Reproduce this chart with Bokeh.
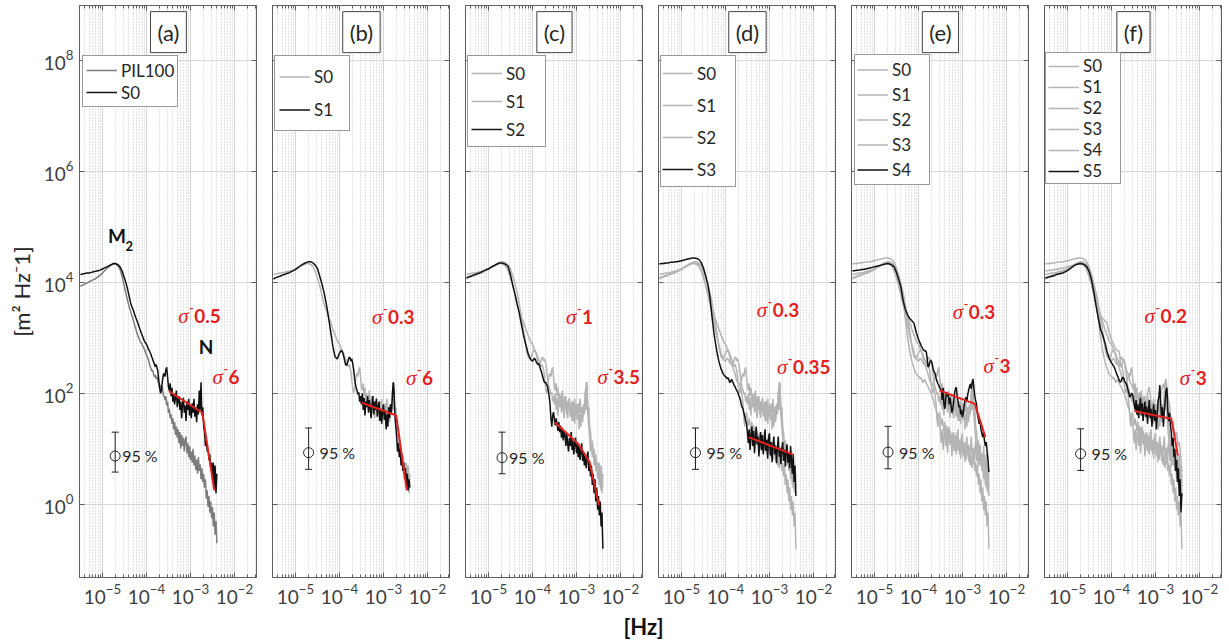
from bokeh.plotting import figure
from bokeh.layouts import row, column
from bokeh.models import (Range1d, FixedTicker, LogAxis, Legend, LegendItem, Label,
                          Whisker, TeeHead, ColumnDataSource, CustomJSTickFormatter)
from bokeh.core.properties import value
from bokeh.embed import file_html
from bokeh.resources import INLINE

# ---------------- data (log10 values) ----------------
LOG_FREQ = [
    -5.50, -5.45, -5.40, -5.35, -5.30, -5.25, -5.20, -5.15, -5.10, -5.05,
    -5.00, -4.95, -4.90, -4.85, -4.80, -4.75, -4.70, -4.65, -4.60, -4.55,
    -4.50, -4.45, -4.40, -4.35, -4.30, -4.25, -4.20, -4.15, -4.10, -4.05,
    -4.00,
    -3.98, -3.96, -3.94, -3.92, -3.90, -3.88, -3.86, -3.84, -3.82, -3.80,
    -3.78, -3.76, -3.74, -3.72, -3.70, -3.68, -3.66, -3.64, -3.62, -3.60,
    -3.58, -3.56, -3.54, -3.52, -3.50, -3.48, -3.46, -3.44, -3.42, -3.40,
    -3.38, -3.36, -3.34, -3.32, -3.30, -3.28, -3.26, -3.24, -3.22, -3.20,
    -3.18, -3.16, -3.14, -3.12, -3.10, -3.08, -3.06, -3.04, -3.02, -3.00,
    -2.98, -2.96, -2.94, -2.92, -2.90, -2.88, -2.86, -2.84, -2.82, -2.80,
    -2.78, -2.76, -2.74, -2.72, -2.70, -2.68, -2.66, -2.64, -2.62, -2.60,
    -2.58, -2.56, -2.54, -2.52, -2.50, -2.48, -2.46, -2.44, -2.42, -2.40]

PIL100 = [
    3.93, 3.95, 3.97, 3.99, 4.01, 4.03, 4.05, 4.07, 4.10, 4.13,
    4.17, 4.21, 4.25, 4.28, 4.31, 4.33, 4.33, 4.30, 4.24, 4.10,
    3.92, 3.75, 3.58, 3.45, 3.32, 3.18, 3.05, 2.95, 2.88, 2.80,
    2.70,
    2.66, 2.62, 2.56, 2.50, 2.45, 2.40, 2.42, 2.35, 2.30, 2.33,
    2.26, 2.30, 2.22, 2.18, 2.10, 2.15, 2.05, 2.12, 1.98, 1.95,
    1.88, 1.95, 1.78, 1.85, 1.65, 1.72, 1.55, 1.62, 1.45, 1.55,
    1.35, 1.48, 1.25, 1.40, 1.20, 1.35, 1.10, 1.30, 1.00, 1.25,
    1.05, 1.20, 0.95, 1.15, 1.22, 0.92, 1.10, 0.85, 1.05, 0.80,
    0.95, 0.75, 1.00, 0.70, 0.88, 0.62, 0.80, 0.55, 0.85, 0.60,
    0.72, 0.45, 0.65, 0.40, 0.55, 0.30, 0.45, 0.10, 0.25, -0.05,
    0.15, -0.15, 0.05, -0.25, -0.05, -0.40, -0.15, -0.55, -0.30, -0.70]

S0 = [
    4.14, 4.15, 4.16, 4.17, 4.17, 4.18, 4.19, 4.20, 4.21, 4.22,
    4.24, 4.26, 4.28, 4.30, 4.32, 4.34, 4.34, 4.32, 4.28, 4.20,
    4.08, 3.95, 3.78, 3.60, 3.50, 3.38, 3.28, 3.16, 3.05, 2.95,
    2.88,
    2.86, 2.80, 2.78, 2.74, 2.71, 2.66, 2.62, 2.57, 2.53, 2.48,
    2.52, 2.46, 2.40, 2.24, 2.10, 2.00, 2.05, 2.20, 2.32, 2.36,
    2.30, 2.42, 2.47, 2.30, 2.12, 2.05, 2.18, 1.95, 2.10, 1.85,
    2.00, 1.80, 1.92, 2.05, 1.75, 1.88, 1.95, 1.70, 1.85, 1.55,
    1.80, 1.92, 1.65, 1.78, 1.50, 1.85, 1.70, 1.90, 1.60, 1.78,
    1.55, 1.82, 1.65, 1.90, 1.58, 1.75, 1.48, 1.80, 1.62, 2.05,
    1.70, 2.20, 1.60, 1.75, 1.40, 1.30, 1.05, 1.15, 0.95, 1.00,
    0.80, 0.90, 0.65, 0.75, 0.45, 0.75, 0.30, 0.70, 0.20, 0.55]

S1 = [
    4.06, 4.08, 4.10, 4.11, 4.13, 4.14, 4.16, 4.17, 4.19, 4.21,
    4.23, 4.26, 4.29, 4.32, 4.34, 4.36, 4.37, 4.37, 4.35, 4.31,
    4.25, 4.12, 3.98, 3.82, 3.62, 3.38, 3.12, 2.85, 2.66, 2.62,
    2.72,
    2.75, 2.77, 2.76, 2.72, 2.66, 2.58, 2.52, 2.50, 2.54, 2.60,
    2.65, 2.64, 2.58, 2.62, 2.55, 2.45, 2.30, 2.18, 2.10, 2.05,
    1.98, 2.02, 1.85, 1.95, 1.80, 2.00, 1.70, 1.92, 1.60, 1.85,
    1.75, 1.95, 1.65, 1.88, 1.72, 1.55, 1.80, 1.95, 1.62, 1.85,
    1.70, 1.90, 1.58, 1.75, 1.85, 1.50, 1.72, 1.45, 1.68, 1.80,
    1.52, 1.70, 1.35, 1.62, 1.40, 1.75, 1.55, 1.80, 1.65, 1.90,
    2.20, 2.05, 1.60, 1.40, 1.20, 0.95, 1.10, 0.85, 1.00, 0.70,
    0.85, 0.60, 0.75, 0.45, 0.65, 0.35, 0.55, 0.25, 0.45, 0.30]

S2 = [
    4.08, 4.10, 4.11, 4.13, 4.14, 4.16, 4.17, 4.19, 4.21, 4.23,
    4.24, 4.27, 4.29, 4.31, 4.33, 4.35, 4.35, 4.34, 4.32, 4.28,
    4.14, 3.96, 3.80, 3.62, 3.45, 3.24, 3.04, 2.88, 2.72, 2.62,
    2.58,
    2.60, 2.63, 2.62, 2.58, 2.55, 2.52, 2.54, 2.50, 2.44, 2.40,
    2.34, 2.28, 2.22, 2.19, 2.20, 2.16, 2.13, 2.05, 1.95, 1.80,
    1.55, 1.40, 1.60, 1.66, 1.52, 1.42, 1.55, 1.45, 1.32, 1.48,
    1.30, 1.42, 1.20, 1.38, 1.15, 1.32, 1.25, 1.05, 1.28, 1.10,
    0.95, 1.20, 1.05, 1.30, 0.98, 1.15, 0.90, 1.10, 1.20, 0.92,
    1.08, 0.85, 1.05, 0.80, 0.95, 1.10, 0.78, 0.92, 0.70, 0.88,
    0.65, 0.85, 0.95, 0.60, 0.75, 0.50, 0.70, 0.35, 0.55, 0.20,
    0.45, 0.05, 0.30, -0.10, 0.15, -0.20, 0.05, -0.40, -0.15, -0.80]

S3 = [
    4.33, 4.34, 4.34, 4.35, 4.35, 4.36, 4.36, 4.37, 4.37, 4.38,
    4.39, 4.40, 4.41, 4.42, 4.43, 4.44, 4.44, 4.43, 4.41, 4.36,
    4.26, 4.12, 3.96, 3.72, 3.35, 3.02, 2.78, 2.58, 2.44, 2.35,
    2.30,
    2.29, 2.26, 2.28, 2.24, 2.19, 2.22, 2.25, 2.22, 2.18, 2.14,
    2.12, 2.08, 2.05, 2.02, 1.97, 1.93, 1.88, 1.80, 1.75, 1.72,
    1.64, 1.58, 1.50, 1.45, 1.30, 1.10, 1.35, 0.98, 1.25, 1.40,
    1.05, 1.32, 0.92, 1.18, 1.40, 1.08, 1.22, 0.86, 1.12, 1.30,
    0.98, 1.25, 0.90, 1.08, 1.35, 0.96, 1.16, 0.82, 1.20, 1.28,
    0.88, 1.12, 0.76, 1.08, 1.22, 0.90, 1.06, 0.74, 1.00, 1.22,
    0.86, 1.02, 0.72, 1.00, 1.12, 0.78, 0.98, 0.68, 0.96, 1.08,
    0.75, 0.92, 0.65, 1.05, 0.80, 0.55, 0.90, 0.40, 0.70, 0.15]

S4 = [
    4.21, 4.21, 4.22, 4.22, 4.23, 4.23, 4.24, 4.25, 4.26, 4.27,
    4.28, 4.29, 4.30, 4.31, 4.32, 4.33, 4.34, 4.33, 4.31, 4.28,
    4.18, 4.06, 3.92, 3.68, 3.52, 3.42, 3.35, 3.31, 3.26, 3.10,
    2.98,
    2.94, 2.90, 2.86, 2.83, 2.80, 2.78, 2.76, 2.77, 2.74, 2.62,
    2.47, 2.50, 2.56, 2.59, 2.57, 2.50, 2.42, 2.38, 2.35, 2.28,
    2.22, 2.18, 2.15, 2.10, 2.08, 2.05, 1.88, 2.10, 1.80, 1.72,
    1.90, 2.02, 1.95, 1.99, 1.80, 1.92, 1.78, 1.65, 1.72, 1.85,
    2.00, 2.08, 2.11, 1.95, 1.85, 1.75, 1.78, 1.62, 1.70, 1.57,
    1.65, 1.80, 1.88, 1.93, 1.85, 1.98, 2.05, 2.12, 2.17, 2.08,
    2.20, 2.26, 2.10, 1.95, 1.87, 1.80, 1.62, 1.55, 1.45, 1.50,
    1.35, 1.28, 1.21, 1.30, 1.15, 1.05, 1.12, 0.95, 0.80, 0.58]

S5 = [
    4.08, 4.09, 4.10, 4.11, 4.12, 4.14, 4.15, 4.16, 4.17, 4.19,
    4.21, 4.24, 4.27, 4.30, 4.32, 4.33, 4.34, 4.33, 4.31, 4.27,
    4.18, 4.04, 3.82, 3.58, 3.36, 3.16, 3.05, 2.92, 2.75, 2.63,
    2.55,
    2.53, 2.50, 2.48, 2.44, 2.39, 2.35, 2.31, 2.27, 2.23, 2.20,
    2.22, 2.26, 2.29, 2.27, 2.22, 2.19, 2.17, 2.12, 2.05, 1.98,
    1.93, 1.96, 2.00, 1.98, 1.90, 1.78, 1.70, 1.88, 1.62, 1.80,
    1.55, 1.75, 1.92, 1.60, 1.82, 1.50, 1.70, 1.85, 1.58, 1.76,
    1.45, 1.68, 1.88, 1.55, 1.72, 1.40, 1.62, 1.80, 1.50, 1.70,
    1.35, 1.60, 1.85, 1.95, 2.15, 1.80, 1.55, 1.75, 1.40, 1.65,
    1.85, 2.05, 2.10, 1.70, 1.50, 1.65, 1.42, 1.30, 1.05, 1.20,
    0.85, 1.00, 0.60, 0.80, 0.40, 0.65, 0.15, 0.45, -0.15, 0.20]

SERIES = {"PIL100": PIL100, "S0": S0, "S1": S1, "S2": S2, "S3": S3, "S4": S4, "S5": S5}
for _k, _v in SERIES.items():
    assert len(_v) == len(LOG_FREQ), (_k, len(_v))

PANEL_TAGS = ["(a)", "(b)", "(c)", "(d)", "(e)", "(f)"]
PANEL_SERIES = [["PIL100", "S0"], ["S0", "S1"], ["S0", "S1", "S2"],
                ["S0", "S1", "S2", "S3"], ["S0", "S1", "S2", "S3", "S4"],
                ["S0", "S1", "S2", "S3", "S4", "S5"]]

# red fitted slopes (log10 f, log10 PSD)
FIT_LOGF = [[-3.49, -2.73, -2.46], [-3.49, -2.71, -2.47], [-3.49, -2.96, -2.70, -2.49],
            [-3.47, -2.47], [-3.52, -2.72, -2.48], [-3.48, -2.64, -2.49]]
FIT_LOGP = [[2.04, 1.65, 0.25], [1.83, 1.60, 0.25], [1.48, 1.09, 0.76, -0.02],
            [1.21, 0.90], [2.05, 1.81, 1.21], [1.68, 1.54, 0.88]]

SLOPE_TEXT = [["0.5", "6"], ["0.3", "6"], ["1", "3.5"], ["0.3", "0.35"], ["0.3", "3"], ["0.2", "3"]]
SLOPE_LOGF = [[-3.28, -2.50], [-3.26, -2.49], [-3.24, -2.52], [-3.29, -2.83], [-3.22, -2.52], [-3.25, -2.45]]
SLOPE_LOGP = [[3.39, 2.29], [3.37, 2.28], [3.37, 2.30], [3.50, 2.47], [3.46, 2.49], [3.39, 2.28]]

# 95 % confidence bar
CI_LOGF = [-4.71, -4.70, -4.69, -4.68, -4.69, -4.70]
CI_MID = [0.87, 0.93, 0.84, 0.93, 0.94, 0.91]
CI_LO = [0.58, 0.63, 0.55, 0.63, 0.64, 0.61]
CI_HI = [1.30, 1.375, 1.30, 1.375, 1.405, 1.36]
CI_TEXT_DX = [7, 11, 7, 11, 11, 11]

X_TICKS = [1e-5, 1e-4, 1e-3, 1e-2]
Y_TICKS = [1e0, 1e2, 1e4, 1e6, 1e8]

# legend box geometry (px)
LEG_X = [3, 2, 2, 2, 3, 1]
LEG_TOP = [57, 57, 57, 57, 56, 60]
LEG_ROW = [22, 33, 28, 32, 25, 20]
LEG_PAD = [3, 4, 3, 1, 2, 2]
LEG_LABEL_W = [52, 31, 36, 37, 35, 35]

# ---------------- style ----------------
FONT = "Lato"
RED = "#e3211f"
BLACK = "#111111"
GRAY_DARK = "#7c7c7c"
GRAY_LIGHT = "#b4b4b4"
FRAME = "#5f5f5f"
FRAME_H = 572


def lp(a):
    return [10.0 ** v for v in a]


def style_axis(ax, labels):
    ax.axis_line_color = FRAME
    ax.major_tick_line_color = FRAME
    ax.minor_tick_line_color = FRAME
    ax.major_tick_in = 5
    ax.major_tick_out = 0
    ax.minor_tick_in = 3
    ax.minor_tick_out = 0
    if labels:
        ax.major_label_text_font = FONT
        ax.major_label_text_font_size = "19px"
        ax.major_label_text_color = "#404040"
        ax.major_label_standoff = 6
    else:
        ax.formatter = CustomJSTickFormatter(code="return ''")
        ax.major_label_text_font_size = "1px"
        ax.major_label_standoff = 0


X_MINOR = [m * 10.0 ** e for e in range(-6, -1) for m in range(2, 10)]

figs = []
for i, tag in enumerate(PANEL_TAGS):
    first = i == 0
    p = figure(x_axis_type="log", y_axis_type="log",
               x_range=Range1d(10 ** -5.52, 10 ** -1.5),
               y_range=Range1d(10 ** -1.32, 10 ** 8.99),
               frame_width=177, frame_height=FRAME_H,
               min_border_left=79 if first else 8, min_border_right=8,
               min_border_top=5, min_border_bottom=33,
               output_backend="svg", toolbar_location=None,
               outline_line_color=FRAME, outline_line_width=1)
    xt = FixedTicker(ticks=X_TICKS, minor_ticks=X_MINOR)
    yt = FixedTicker(ticks=Y_TICKS, minor_ticks=[])
    xa = p.xaxis[0]
    ya = p.yaxis[0]
    xa.ticker = xt
    ya.ticker = yt
    style_axis(xa, True)
    style_axis(ya, first)
    top = LogAxis(ticker=xt)
    style_axis(top, False)
    p.add_layout(top, "above")
    right = LogAxis(ticker=yt)
    style_axis(right, False)
    p.add_layout(right, "right")

    p.xgrid.ticker = xt
    p.ygrid.ticker = yt
    p.xgrid.grid_line_color = "#d6d6d6"
    p.xgrid.minor_grid_line_color = "#c4c4c4"
    p.xgrid.minor_grid_line_dash = "1 2"
    p.ygrid.grid_line_color = "#d6d6d6"

    if first:
        ya.axis_label = "[m² Hz⁻1]"
        ya.axis_label_text_font = FONT
        ya.axis_label_text_font_size = "22px"
        ya.axis_label_text_font_style = "normal"
        ya.axis_label_text_color = "#262626"
        ya.axis_label_standoff = 6

    names = PANEL_SERIES[i]
    items = []
    for j, name in enumerate(names):
        last = j == len(names) - 1
        col = BLACK if last else (GRAY_DARK if name == "PIL100" else GRAY_LIGHT)
        r = p.line(lp(LOG_FREQ), lp(SERIES[name]), line_color=col, line_width=1.5)
        items.append(LegendItem(label=name, renderers=[r]))

    p.line(lp(FIT_LOGF[i]), lp(FIT_LOGP[i]), line_color=RED, line_width=2)

    # confidence bar
    src = ColumnDataSource(dict(x=[10 ** CI_LOGF[i]], lo=[10 ** CI_LO[i]], hi=[10 ** CI_HI[i]]))
    p.add_layout(Whisker(source=src, base="x", lower="lo", upper="hi", dimension="height",
                         line_color="#222222", line_width=1,
                         lower_head=TeeHead(size=7, line_color="#222222", line_width=1),
                         upper_head=TeeHead(size=7, line_color="#222222", line_width=1)))
    p.scatter([10 ** CI_LOGF[i]], [10 ** CI_MID[i]], marker="circle", size=10,
              fill_color=None, line_color="#222222", line_width=1)
    p.text([10 ** CI_LOGF[i]], [10 ** CI_MID[i]], text=["95 %"], x_offset=CI_TEXT_DX[i],
           text_baseline="middle", text_align="left", text_font=value(FONT),
           text_font_size="16px", text_color="#262626")

    # slope labels
    sx = lp(SLOPE_LOGF[i])
    sy = lp(SLOPE_LOGP[i])
    p.text(sx, sy, text=["σ", "σ"], text_font=value("Liberation Serif"), text_font_style="italic",
           text_font_size="21px", text_color=RED, text_baseline="middle", text_align="left")
    p.text(sx, sy, text=["-", "-"], x_offset=11, y_offset=-8, text_font=value(FONT),
           text_font_style="bold", text_font_size="12px", text_color=RED,
           text_baseline="middle", text_align="left")
    p.text(sx, sy, text=SLOPE_TEXT[i], x_offset=16, text_font=value(FONT),
           text_font_style="bold", text_font_size="19px", text_color=RED,
           text_baseline="middle", text_align="left")

    if first:
        p.text([10 ** -4.875], [10 ** 4.85], text=["M"], text_font=value(FONT), text_font_style="bold",
               text_font_size="19px", text_color=BLACK, text_baseline="middle", text_align="left")
        p.text([10 ** -4.475], [10 ** 4.66], text=["2"], text_font=value(FONT), text_font_style="bold",
               text_font_size="13px", text_color=BLACK, text_baseline="middle", text_align="left")
        p.text([10 ** -2.81], [10 ** 2.85], text=["N"], text_font=value(FONT), text_font_style="bold",
               text_font_size="19px", text_color=BLACK, text_baseline="middle", text_align="left")

    # panel tag
    p.add_layout(Label(x=10 ** -3.5, y=10 ** 8.51, text=tag, text_align="center",
                       text_baseline="middle", text_font=FONT, text_font_size="22px",
                       text_color="#262626", border_line_color="#444444", border_line_width=1,
                       background_fill_color="white", padding=7))

    n = len(names)
    h = 2 * LEG_PAD[i] + n * LEG_ROW[i]
    leg = Legend(items=items, location=(LEG_X[i], FRAME_H - (LEG_TOP[i] - 5) - h),
                 label_text_font=FONT, label_text_font_size="17px", label_text_color="#262626",
                 glyph_width=31, glyph_height=LEG_ROW[i], label_height=LEG_ROW[i],
                 label_width=LEG_LABEL_W[i], label_standoff=4, spacing=0,
                 padding=LEG_PAD[i], margin=0, border_line_color="#333333",
                 border_line_width=1, background_fill_color="white", background_fill_alpha=1)
    p.add_layout(leg)
    figs.append(p)

# shared x-axis title strip below the panels (row is 610 px tall)
xt_fig = figure(width=1229, height=34, x_range=Range1d(0, 1229), y_range=Range1d(0, 34),
                min_border=0, output_backend="svg", toolbar_location=None,
                outline_line_color=None)
xt_fig.axis.visible = False
xt_fig.grid.visible = False
xt_fig.add_layout(Label(x=643, y=18, text="[Hz]", text_align="center", text_baseline="middle",
                        text_font=FONT, text_font_style="bold", text_font_size="22px",
                        text_color="#111111"))

layout = column(row(*figs), xt_fig)
open("out.html", "w").write(file_html(layout, INLINE))
